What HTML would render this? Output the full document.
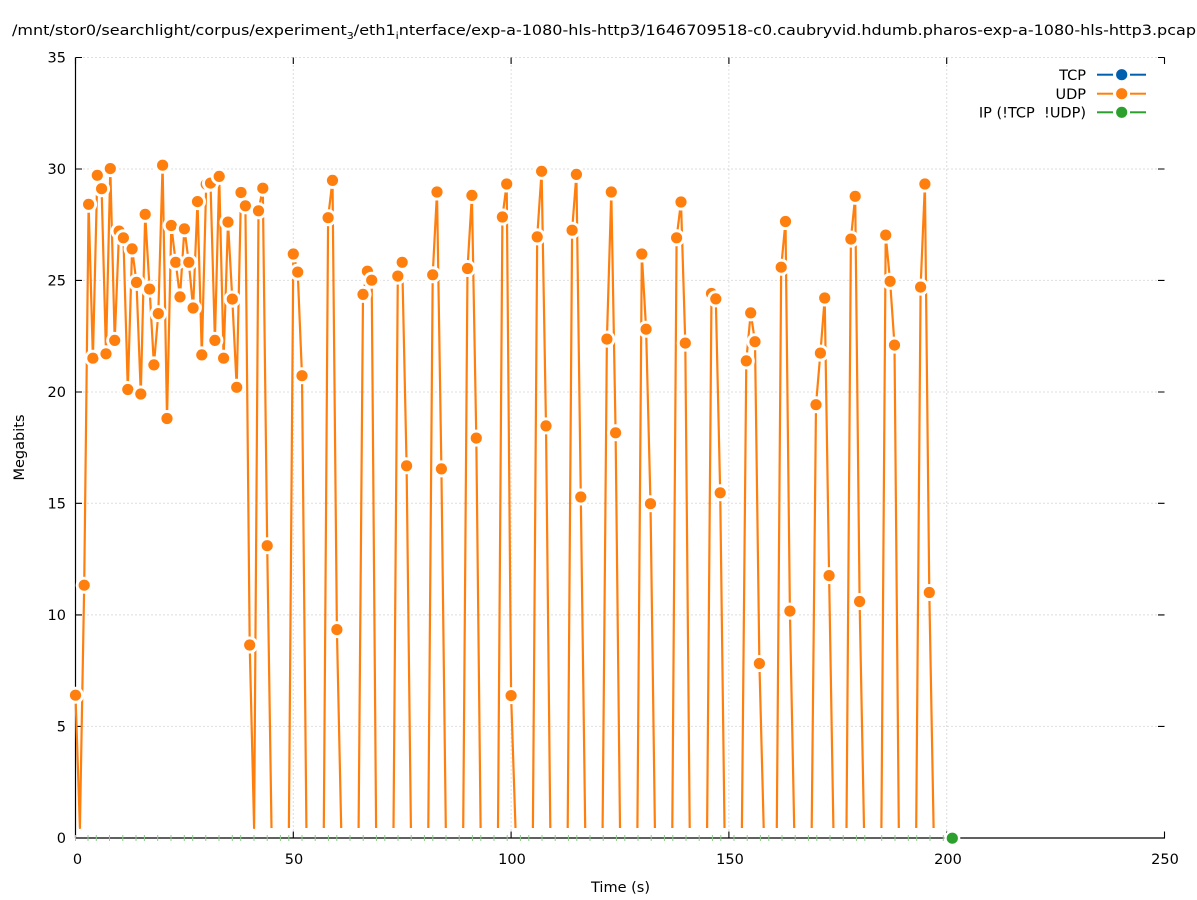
<!DOCTYPE html>
<html>
<head>
<meta charset="utf-8">
<style>
  html,body{margin:0;padding:0;background:#fff;}
  body{width:1197px;height:900px;overflow:hidden;}
  svg{display:block;}
  text{font-family:"DejaVu Sans","Liberation Sans",sans-serif;fill:#000;}
</style>
</head>
<body>
<svg width="1197" height="900" viewBox="0 0 1197 900" xmlns="http://www.w3.org/2000/svg">
  <defs>
    <symbol id="pt" overflow="visible">
      <circle cx="0" cy="0" r="8.5" fill="#fff"/>
      <circle cx="0" cy="0" r="5.6" fill="#ff7f0e"/>
    </symbol>
  </defs>
  <rect x="0" y="0" width="1197" height="900" fill="#fff"/>

  <text x="12" y="35" font-size="14.5" textLength="1184" lengthAdjust="spacingAndGlyphs">/mnt/stor0/searchlight/corpus/experiment<tspan font-size="10" dy="4">3</tspan><tspan dy="-4">/eth1</tspan><tspan font-size="10" dy="4">i</tspan><tspan dy="-4">nterface/exp-a-1080-hls-http3/1646709518-c0.caubryvid.hdumb.pharos-exp-a-1080-hls-http3.pcap</tspan></text>

  <g stroke="#bdbdbd" stroke-width="1" stroke-dasharray="1 3" fill="none">
    <line x1="75.5" y1="57.5" x2="1164.5" y2="57.5"/>
    <line x1="75.5" y1="169" x2="1164.5" y2="169"/>
    <line x1="75.5" y1="280.4" x2="1164.5" y2="280.4"/>
    <line x1="75.5" y1="392" x2="1164.5" y2="392"/>
    <line x1="75.5" y1="503.3" x2="1164.5" y2="503.3"/>
    <line x1="75.5" y1="614.9" x2="1164.5" y2="614.9"/>
    <line x1="75.5" y1="726.4" x2="1164.5" y2="726.4"/>
    <line x1="293.3" y1="57.5" x2="293.3" y2="838"/>
    <line x1="511.1" y1="57.5" x2="511.1" y2="838"/>
    <line x1="728.9" y1="57.5" x2="728.9" y2="838"/>
    <line x1="946.7" y1="57.5" x2="946.7" y2="838"/>
  </g>

  <g stroke="#000" stroke-width="1.2" fill="none">
    <line x1="75.5" y1="57.5" x2="75.5" y2="838"/>
    <line x1="75.5" y1="838" x2="1165" y2="838"/>
  </g>
  <path stroke="#000" stroke-width="1.1" fill="none" d="
M75.5,57.5H82 M75.5,169H82 M75.5,280.4H82 M75.5,392H82 M75.5,503.3H82 M75.5,614.9H82 M75.5,726.4H82
M1158,57.5H1164.5 M1158,169H1164.5 M1158,280.4H1164.5 M1158,392H1164.5 M1158,503.3H1164.5 M1158,614.9H1164.5 M1158,726.4H1164.5 M1158,838H1164.5
M293.3,838V831.5 M511.1,838V831.5 M728.9,838V831.5 M946.7,838V831.5 M1164.5,838V831.5
M75.5,57.5V64 M293.3,57.5V64 M511.1,57.5V64 M728.9,57.5V64 M946.7,57.5V64 M1164.5,57.5V64"/>

  <g font-size="14.5" text-anchor="end">
    <text x="66" y="62.5">35</text>
    <text x="66" y="174">30</text>
    <text x="66" y="285.4">25</text>
    <text x="66" y="397">20</text>
    <text x="66" y="508.3">15</text>
    <text x="66" y="619.9">10</text>
    <text x="66" y="731.4">5</text>
    <text x="66" y="843">0</text>
  </g>
  <g font-size="14.5" text-anchor="middle">
    <text x="77.5" y="864">0</text>
    <text x="294" y="864">50</text>
    <text x="512" y="864">100</text>
    <text x="730" y="864">150</text>
    <text x="948" y="864">200</text>
    <text x="1165" y="864">250</text>
  </g>
  <text x="620.5" y="892" font-size="14.5" text-anchor="middle">Time (s)</text>
  <text x="0" y="0" font-size="14.5" text-anchor="middle" transform="translate(24,447.5) rotate(-90)">Megabits</text>

  <path stroke="#8ccc8c" stroke-width="1" fill="none" d="
M75.5,835V841 M88,835V841 M96.3,835V841 M109.5,835V841 M122.8,835V841 M136,835V841 M144.4,835V841 M157.7,835V841
M171,835V841 M184.3,835V841 M192.7,835V841 M205.8,835V841 M219,835V841 M232.3,835V841 M240.7,835V841 M254,835V841
M267.2,835V841 M280.4,835V841 M288.8,835V841 M302,835V841 M315.2,835V841 M328.4,835V841 M336.8,835V841 M350,835V841
M363.2,835V841 M376.4,835V841 M384.8,835V841 M398,835V841 M411.2,835V841 M424.4,835V841 M432.8,835V841 M446,835V841
M459.2,835V841 M472.4,835V841 M480.8,835V841 M494,835V841 M507.2,835V841 M520.4,835V841 M528.8,835V841 M542,835V841
M555.2,835V841 M568.4,835V841 M576.8,835V841 M590,835V841 M603.2,835V841 M616.4,835V841 M624.8,835V841 M638,835V841
M651.2,835V841 M664.4,835V841 M672.8,835V841 M686,835V841 M699.2,835V841 M712.4,835V841 M720.8,835V841 M734,835V841
M747.2,835V841 M760.4,835V841 M768.8,835V841 M782,835V841 M795.2,835V841 M808.4,835V841 M816.8,835V841 M830,835V841
M843.2,835V841 M856.4,835V841 M864.8,835V841 M881.7,835V841 M895,835V841 M908.3,835V841 M916.7,835V841 M930,835V841 M943.3,835V841"/>
  <circle cx="952.3" cy="838.2" r="8" fill="#fff"/>
  <circle cx="952.3" cy="838.2" r="5.6" fill="#2ca02c"/>

  <path fill="none" stroke="#ff7f0e" stroke-width="2.2" stroke-linejoin="round" d="
M75.5,695.2 L79.9,828 L84.2,585.2 L88.6,204.3 L92.9,358.2 L97.3,175.3 L101.6,188.7 L106.0,353.8 L110.3,168.6 L114.7,340.4 L119.1,231.1 L123.4,237.8 L127.8,389.5 L132.1,248.9 L136.5,282.4 L140.8,394.0 L145.2,214.3 L149.6,289.1 L153.9,364.9 L158.3,313.6 L162.6,165.2 L167.0,418.5 L171.3,225.5 L175.7,262.3 L180.0,296.9 L184.4,228.8 L188.8,262.3 L193.1,308.0 L197.5,201.6 L201.8,354.9 L206.2,184.2 L210.5,183.1 L214.9,340.4 L219.2,176.4 L223.6,358.2 L228.0,222.1 L232.3,299.1 L236.7,387.3 L241.0,192.5 L245.4,205.8 L249.7,645.0 L254.1,828 L258.5,210.8 L262.8,188.2 L267.2,545.7 L271.5,828
M288.9,828 L293.3,254.0 L297.7,272.1 L302.0,375.7 L306.4,828
M323.8,828 L328.1,217.7 L332.5,180.4 L336.9,629.6 L341.2,828
M358.6,828 L363.0,294.4 L367.4,271.2 L371.7,280.2 L376.1,828
M393.5,828 L397.8,276.1 L402.2,262.3 L406.6,465.8 L410.9,828
M428.3,828 L432.7,274.8 L437.0,192.0 L441.4,468.9 L445.8,828
M463.2,828 L467.5,268.5 L471.9,195.4 L476.3,438.1 L480.6,828
M498.0,828 L502.4,217.0 L506.7,184.0 L511.1,695.6 L515.5,828
M532.9,828 L537.2,236.9 L541.6,171.3 L546.0,425.9 L550.3,828
M567.7,828 L572.1,230.2 L576.4,174.4 L580.8,497.0 L585.2,828
M602.6,828 L606.9,339.1 L611.3,192.0 L615.6,432.8 L620.0,828
M637.4,828 L641.8,254.0 L646.1,329.2 L650.5,503.7 L654.9,828
M672.3,828 L676.6,237.8 L681.0,202.0 L685.3,343.1 L689.7,828
M707.1,828 L711.5,293.5 L715.8,298.9 L720.2,492.8 L724.5,828
M741.9,828 L746.3,360.9 L750.7,312.9 L755.0,341.7 L759.4,663.5 L763.7,828
M776.8,828 L781.2,267.2 L785.5,221.5 L789.9,611.1 L794.2,828
M811.7,828 L816.0,404.7 L820.4,353.1 L824.7,298.0 L829.1,575.6 L833.4,828
M846.5,828 L850.9,239.1 L855.2,196.3 L859.6,601.5 L864.0,828
M881.4,828 L885.7,235.1 L890.1,281.3 L894.5,345.1 L898.8,828
M916.2,828 L920.6,287.1 L924.9,184.0 L929.3,592.5 L933.6,828"/>

  <g>
    <use href="#pt" x="75.5" y="695.2"/>
    <use href="#pt" x="84.2" y="585.2"/>
    <use href="#pt" x="88.6" y="204.3"/>
    <use href="#pt" x="92.9" y="358.2"/>
    <use href="#pt" x="97.3" y="175.3"/>
    <use href="#pt" x="101.6" y="188.7"/>
    <use href="#pt" x="106.0" y="353.8"/>
    <use href="#pt" x="110.3" y="168.6"/>
    <use href="#pt" x="114.7" y="340.4"/>
    <use href="#pt" x="119.1" y="231.1"/>
    <use href="#pt" x="123.4" y="237.8"/>
    <use href="#pt" x="127.8" y="389.5"/>
    <use href="#pt" x="132.1" y="248.9"/>
    <use href="#pt" x="136.5" y="282.4"/>
    <use href="#pt" x="140.8" y="394.0"/>
    <use href="#pt" x="145.2" y="214.3"/>
    <use href="#pt" x="149.6" y="289.1"/>
    <use href="#pt" x="153.9" y="364.9"/>
    <use href="#pt" x="158.3" y="313.6"/>
    <use href="#pt" x="162.6" y="165.2"/>
    <use href="#pt" x="167.0" y="418.5"/>
    <use href="#pt" x="171.3" y="225.5"/>
    <use href="#pt" x="175.7" y="262.3"/>
    <use href="#pt" x="180.0" y="296.9"/>
    <use href="#pt" x="184.4" y="228.8"/>
    <use href="#pt" x="188.8" y="262.3"/>
    <use href="#pt" x="193.1" y="308.0"/>
    <use href="#pt" x="197.5" y="201.6"/>
    <use href="#pt" x="201.8" y="354.9"/>
    <use href="#pt" x="206.2" y="184.2"/>
    <use href="#pt" x="210.5" y="183.1"/>
    <use href="#pt" x="214.9" y="340.4"/>
    <use href="#pt" x="219.2" y="176.4"/>
    <use href="#pt" x="223.6" y="358.2"/>
    <use href="#pt" x="228.0" y="222.1"/>
    <use href="#pt" x="232.3" y="299.1"/>
    <use href="#pt" x="236.7" y="387.3"/>
    <use href="#pt" x="241.0" y="192.5"/>
    <use href="#pt" x="245.4" y="205.8"/>
    <use href="#pt" x="249.7" y="645.0"/>
    <use href="#pt" x="258.5" y="210.8"/>
    <use href="#pt" x="262.8" y="188.2"/>
    <use href="#pt" x="267.2" y="545.7"/>
    <use href="#pt" x="293.3" y="254.0"/>
    <use href="#pt" x="297.7" y="272.1"/>
    <use href="#pt" x="302.0" y="375.7"/>
    <use href="#pt" x="328.1" y="217.7"/>
    <use href="#pt" x="332.5" y="180.4"/>
    <use href="#pt" x="336.9" y="629.6"/>
    <use href="#pt" x="363.0" y="294.4"/>
    <use href="#pt" x="367.4" y="271.2"/>
    <use href="#pt" x="371.7" y="280.2"/>
    <use href="#pt" x="397.8" y="276.1"/>
    <use href="#pt" x="402.2" y="262.3"/>
    <use href="#pt" x="406.6" y="465.8"/>
    <use href="#pt" x="432.7" y="274.8"/>
    <use href="#pt" x="437.0" y="192.0"/>
    <use href="#pt" x="441.4" y="468.9"/>
    <use href="#pt" x="467.5" y="268.5"/>
    <use href="#pt" x="471.9" y="195.4"/>
    <use href="#pt" x="476.3" y="438.1"/>
    <use href="#pt" x="502.4" y="217.0"/>
    <use href="#pt" x="506.7" y="184.0"/>
    <use href="#pt" x="511.1" y="695.6"/>
    <use href="#pt" x="537.2" y="236.9"/>
    <use href="#pt" x="541.6" y="171.3"/>
    <use href="#pt" x="546.0" y="425.9"/>
    <use href="#pt" x="572.1" y="230.2"/>
    <use href="#pt" x="576.4" y="174.4"/>
    <use href="#pt" x="580.8" y="497.0"/>
    <use href="#pt" x="606.9" y="339.1"/>
    <use href="#pt" x="611.3" y="192.0"/>
    <use href="#pt" x="615.6" y="432.8"/>
    <use href="#pt" x="641.8" y="254.0"/>
    <use href="#pt" x="646.1" y="329.2"/>
    <use href="#pt" x="650.5" y="503.7"/>
    <use href="#pt" x="676.6" y="237.8"/>
    <use href="#pt" x="681.0" y="202.0"/>
    <use href="#pt" x="685.3" y="343.1"/>
    <use href="#pt" x="711.5" y="293.5"/>
    <use href="#pt" x="715.8" y="298.9"/>
    <use href="#pt" x="720.2" y="492.8"/>
    <use href="#pt" x="746.3" y="360.9"/>
    <use href="#pt" x="750.7" y="312.9"/>
    <use href="#pt" x="755.0" y="341.7"/>
    <use href="#pt" x="759.4" y="663.5"/>
    <use href="#pt" x="781.2" y="267.2"/>
    <use href="#pt" x="785.5" y="221.5"/>
    <use href="#pt" x="789.9" y="611.1"/>
    <use href="#pt" x="816.0" y="404.7"/>
    <use href="#pt" x="820.4" y="353.1"/>
    <use href="#pt" x="824.7" y="298.0"/>
    <use href="#pt" x="829.1" y="575.6"/>
    <use href="#pt" x="850.9" y="239.1"/>
    <use href="#pt" x="855.2" y="196.3"/>
    <use href="#pt" x="859.6" y="601.5"/>
    <use href="#pt" x="885.7" y="235.1"/>
    <use href="#pt" x="890.1" y="281.3"/>
    <use href="#pt" x="894.5" y="345.1"/>
    <use href="#pt" x="920.6" y="287.1"/>
    <use href="#pt" x="924.9" y="184.0"/>
    <use href="#pt" x="929.3" y="592.5"/>
  </g>

  <rect x="950" y="60" width="208" height="62" fill="#fff"/>
  <g font-size="14.5" text-anchor="end">
    <text x="1086" y="80">TCP</text>
    <text x="1086" y="99">UDP</text>
    <text x="1086" y="117.5" xml:space="preserve">IP (!TCP  !UDP)</text>
  </g>
  <g stroke-width="2" fill="none">
    <line x1="1097" y1="74.7" x2="1113" y2="74.7" stroke="#0060ad"/>
    <line x1="1130" y1="74.7" x2="1146" y2="74.7" stroke="#0060ad"/>
    <line x1="1097" y1="93.7" x2="1113" y2="93.7" stroke="#ff7f0e"/>
    <line x1="1130" y1="93.7" x2="1146" y2="93.7" stroke="#ff7f0e"/>
    <line x1="1097" y1="112.3" x2="1113" y2="112.3" stroke="#2ca02c"/>
    <line x1="1130" y1="112.3" x2="1146" y2="112.3" stroke="#2ca02c"/>
  </g>
  <circle cx="1121.7" cy="74.7" r="5.6" fill="#0060ad"/>
  <circle cx="1121.7" cy="93.7" r="5.6" fill="#ff7f0e"/>
  <circle cx="1121.7" cy="112.3" r="5.6" fill="#2ca02c"/>
</svg>
</body>
</html>
